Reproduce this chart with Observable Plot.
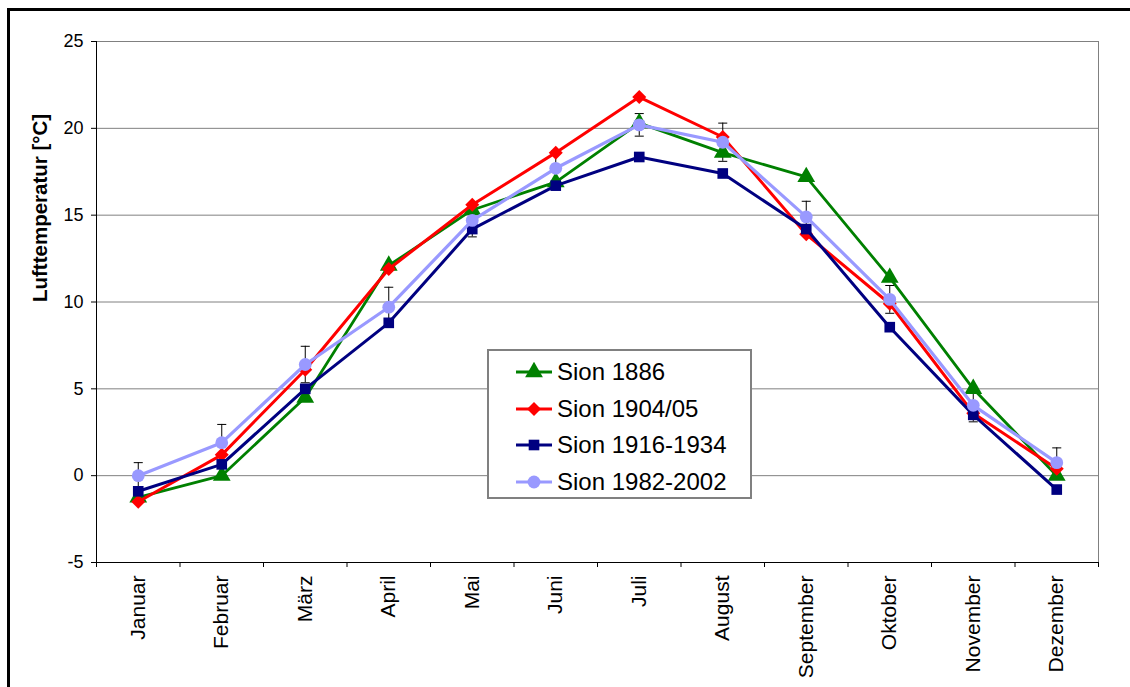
<!DOCTYPE html>
<html><head><meta charset="utf-8">
<script src="https://cdn.jsdelivr.net/npm/d3@7"></script>
<script src="https://cdn.jsdelivr.net/npm/@observablehq/plot@0.6"></script>
<style>
html,body{margin:0;padding:0;background:#fff;overflow:hidden;}
#wrap{position:relative;width:1130px;height:687px;overflow:hidden;}
#outer{position:absolute;left:7px;top:8px;width:1300px;height:900px;border:3px solid #000;pointer-events:none;}
#legend{position:absolute;left:487px;top:349px;width:261px;height:146px;border:2px solid #808080;background:#fff;font-family:"Liberation Sans",Arial,sans-serif;font-size:24px;color:#000;}
.row{position:absolute;left:27px;height:36px;display:flex;align-items:center;white-space:nowrap;}
.row svg{margin-right:5px;}
</style></head><body><div id="wrap"><div id="chart"></div><div id="legend"></div><div id="outer"></div></div>
<script>
const months = ["Januar","Februar","März","April","Mai","Juni","Juli","August","September","Oktober","November","Dezember"];
const sion1886 = [-1.25, 0.0, 4.5, 12.1, 15.3, 16.9, 20.3, 18.6, 17.2, 11.4, 5.0, 0.0];
const sion1904 = [-1.5, 1.2, 6.1, 11.9, 15.6, 18.6, 21.8, 19.5, 13.9, 9.9, 3.6, 0.4];
const sion1916 = [-0.9, 0.65, 5.0, 8.8, 14.2, 16.7, 18.35, 17.4, 14.2, 8.55, 3.5, -0.8];
const sion1982 = [0.0, 1.9, 6.4, 9.7, 14.7, 17.7, 20.2, 19.2, 14.9, 10.15, 4.05, 0.75];
const err1982 = [0.75, 1.05, 1.05, 1.15, 0.95, 1.0, 0.65, 1.1, 0.9, 0.8, 0.95, 0.85];
const seriesNames = ["Sion 1886", "Sion 1904/05", "Sion 1916-1934", "Sion 1982-2002"];
const yTicks = [-5, 0, 5, 10, 15, 20, 25];
const yLabel = "Lufttemperatur [°C]";

const colors = ["#008000", "#FF0000", "#000080", "#9999FF"];
const symbols = ["triangle", "diamond2", "square", "circle"];
const radii = [6.6, 6.3, 6.0, 6.4];
const widths = [2.8, 3.0, 3.0, 3.2];
const valuesList = [sion1886, sion1904, sion1916, sion1982];

const idx = d3.range(months.length);
const xDomain = [-0.5, months.length - 0.5];
const boundaries = d3.range(months.length + 1).map(i => i - 0.5);
const font = '"Liberation Sans", Arial, sans-serif';

const capSymbol = {draw(ctx, size) { const w = Math.sqrt(size) / 2; ctx.moveTo(-w, 0); ctx.lineTo(w, 0); }};
const errRows = idx.map(i => ({i, lo: sion1982[i] - err1982[i], hi: sion1982[i] + err1982[i]}));
const caps = errRows.flatMap(d => [{i: d.i, v: d.lo}, {i: d.i, v: d.hi}]);

const seriesMarks = valuesList.flatMap((vals, s) => {
  const rows = idx.map(i => ({i, v: vals[i]}));
  return [
    Plot.line(rows, {x: "i", y: "v", stroke: colors[s], strokeWidth: widths[s]}),
    Plot.dot(rows, {x: "i", y: "v", symbol: symbols[s], r: radii[s], fill: colors[s], stroke: "none"})
  ];
});

const chart = Plot.plot({
  width: 1130,
  height: 687,
  marginLeft: 96,
  marginRight: 32,
  marginTop: 41,
  marginBottom: 125,
  style: {fontFamily: font, background: "transparent", color: "#000"},
  x: {type: "linear", domain: xDomain},
  y: {domain: [yTicks[0], yTicks[yTicks.length - 1]]},
  marks: [
    Plot.ruleY(yTicks.filter(t => t > yTicks[0]), {stroke: "#808080", strokeWidth: 1}),
    Plot.ruleX([xDomain[1]], {stroke: "#808080", strokeWidth: 1}),
    Plot.axisY({ticks: yTicks, tickSize: 5, tickPadding: 8, fontSize: 18, label: null, tickFormat: d => String(d)}),
    Plot.axisX({ticks: boundaries, tickSize: 5, tickFormat: () => "", label: null}),
    Plot.axisX({ticks: idx, tickSize: 0, tickPadding: 13, tickRotate: -90, fontSize: 21, tickFormat: i => months[i], label: null}),
    Plot.ruleX([xDomain[0]], {stroke: "#000", strokeWidth: 1}),
    Plot.ruleY([yTicks[0]], {stroke: "#000", strokeWidth: 1}),
    Plot.ruleX(errRows, {x: "i", y1: "lo", y2: "hi", stroke: "#000", strokeWidth: 1}),
    Plot.dot(caps, {x: "i", y: "v", symbol: capSymbol, r: 5.1, stroke: "#000", fill: "none", strokeWidth: 1}),
    ...seriesMarks,
    Plot.text([yLabel], {frameAnchor: "left", dx: -56, rotate: -90, fontWeight: "bold", fontSize: 20.5, text: d => d})
  ]
});
document.getElementById("chart").appendChild(chart);

// legend
const legend = d3.select("#legend");
seriesNames.forEach((name, s) => {
  const row = legend.append("div").attr("class", "row").style("top", (3 + s * 36.5) + "px");
  const svg = row.append("svg").attr("width", 36).attr("height", 20);
  svg.append("line").attr("x1", 0).attr("x2", 36).attr("y1", 10).attr("y2", 10)
    .attr("stroke", colors[s]).attr("stroke-width", widths[s]);
  const sym = {triangle: d3.symbolTriangle, diamond2: d3.symbolDiamond2, square: d3.symbolSquare, circle: d3.symbolCircle}[symbols[s]];
  svg.append("path").attr("transform", "translate(18,10)")
    .attr("d", d3.symbol(sym, Math.PI * radii[s] * radii[s])())
    .attr("fill", colors[s]);
  row.append("span").text(name);
});
</script></body></html>
